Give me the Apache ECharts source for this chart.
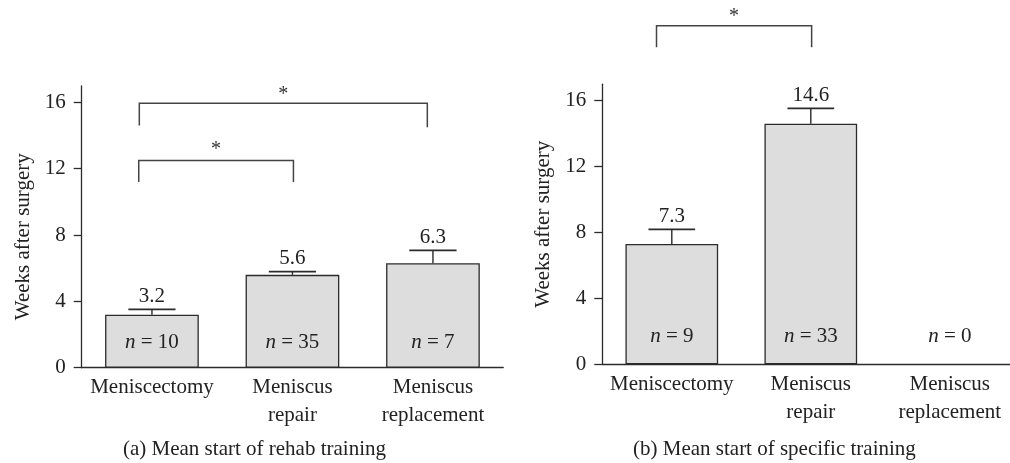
<!DOCTYPE html>
<html><head><meta charset="utf-8">
<script src="https://cdn.jsdelivr.net/npm/echarts@6/dist/echarts.min.js"></script>
<style>html,body{margin:0;padding:0;background:#fff}#c{width:1010px;height:463px}</style>
</head><body><div id="c"></div>
<script>
const categories = ['Meniscectomy', 'Meniscus\nrepair', 'Meniscus\nreplacement'];
const rehabMeans = [3.2, 5.6, 6.3];
const rehabErrTop = [3.52, 5.79, 7.08];
const rehabN = [10, 35, 7];
const specificMeans = [7.3, 14.6, null];
const specificErrTop = [8.19, 15.53, null];
const specificN = [9, 33, 0];
const yTicks = [0, 4, 8, 12, 16];
const yTitle = 'Weeks after surgery';
const captionA = '(a) Mean start of rehab training';
const captionB = '(b) Mean start of specific training';
// significance brackets: [xStart, xEnd, yTop, yBottomStart, yBottomEnd, starX, starY] (category units / weeks)
const rehabBrackets = [[-0.09, 1.96, 15.95, 14.6, 14.5, 0.935, 16.49], [-0.094, 1.007, 12.5, 11.2, 11.2, 0.456, 13.13]];
const specificBrackets = [[-0.11, 1.006, 20.55, 19.24, 19.24, 0.447, 21.1]];

const FONT = '"Liberation Serif", "Times New Roman", serif';
const FS = 21;
const INK = '#2b2b2b';

function errData(means, tops, ns) {
  return means.map((m, i) => [i, m == null ? '-' : m, tops[i] == null ? '-' : tops[i], ns[i]]);
}

function errItem(nOffset) {
  return function (params, api) {
    const i = api.value(0), m = api.value(1), t = api.value(2), n = api.value(3);
    const base = api.coord([i, 0]);
    const band = api.size([1, 0])[0];
    const children = [{
      type: 'text', x: base[0], y: base[1] - nOffset,
      style: {
        text: '{i|n} = ' + n,
        rich: { i: { fontStyle: 'italic', fontFamily: FONT, fontSize: FS, fill: '#222' } },
        fontFamily: FONT, fontSize: FS, fill: '#222', align: 'center', verticalAlign: 'middle'
      }
    }];
    if (!isNaN(m) && !isNaN(t)) {
      const pm = api.coord([i, m]);
      const pt = api.coord([i, t]);
      const half = band * 0.168;
      children.push({ type: 'line', shape: { x1: pm[0], y1: pm[1], x2: pt[0], y2: pt[1] }, style: { stroke: INK, lineWidth: 1.4 } });
      children.push({ type: 'line', shape: { x1: pt[0] - half, y1: pt[1], x2: pt[0] + half, y2: pt[1] }, style: { stroke: INK, lineWidth: 1.8 } });
      children.push({
        type: 'text', x: pt[0], y: pt[1] - 13,
        style: { text: String(m), fontFamily: FONT, fontSize: FS, fill: '#222', align: 'center', verticalAlign: 'middle' }
      });
    }
    return { type: 'group', children };
  };
}

function bracketItem(params, api) {
  const p1 = api.coord([api.value(0), api.value(3)]);
  const p2 = api.coord([api.value(0), api.value(2)]);
  const p3 = api.coord([api.value(1), api.value(2)]);
  const p4 = api.coord([api.value(1), api.value(4)]);
  const s = api.coord([api.value(5), api.value(6)]);
  return {
    type: 'group', children: [
      { type: 'polyline', shape: { points: [p1, p2, p3, p4] }, style: { stroke: '#444', lineWidth: 1.5, fill: null } },
      { type: 'text', x: s[0], y: s[1], style: { text: '*', fontFamily: FONT, fontSize: 20, fill: '#333', align: 'center', verticalAlign: 'middle' } }
    ]
  };
}

function catAxis(gridIndex) {
  return {
    type: 'category', gridIndex, data: categories, boundaryGap: true,
    axisLine: { onZero: false, lineStyle: { color: INK, width: 1.3 } },
    axisTick: { alignWithLabel: true, length: 8, lineStyle: { color: INK, width: 1.3 } },
    axisLabel: { interval: 0, margin: 6, fontFamily: FONT, fontSize: FS, color: '#222', lineHeight: 28 },
    splitLine: { show: false }
  };
}
function valXAxis(gridIndex) {
  return { type: 'value', gridIndex, min: -0.5, max: 2.5, show: false, axisLine: { onZero: false }, splitLine: { show: false } };
}
function yAxis(gridIndex, padding) {
  return {
    type: 'value', gridIndex, min: 0, max: 17,
    name: yTitle, nameLocation: 'middle', nameGap: 48,
    nameTextStyle: { fontFamily: FONT, fontSize: FS, color: '#222', padding },
    axisLine: { show: true, onZero: false, lineStyle: { color: INK, width: 1.3 } },
    axisTick: { show: true, length: 8, customValues: yTicks, lineStyle: { color: INK, width: 1.3 } },
    axisLabel: { margin: 16, customValues: yTicks, fontFamily: FONT, fontSize: FS, color: '#222' },
    splitLine: { show: false }
  };
}
function barSeries(xi, yi, means) {
  return {
    type: 'bar', xAxisIndex: xi, yAxisIndex: yi, data: means.map(v => v == null ? '-' : v),
    barWidth: '66.7%',
    itemStyle: { color: '#dddddd', borderColor: INK, borderWidth: 1.3 }
  };
}

const chart = echarts.init(document.getElementById('c'), null, { renderer: 'canvas' });
chart.setOption({
  animation: false,
  backgroundColor: '#fff',
  grid: [
    { left: 81.7, width: 421.5, top: 85.8, height: 281.9, outerBoundsMode: 'none', containLabel: false },
    { left: 602.3, width: 417, top: 84.2, height: 280.1, outerBoundsMode: 'none', containLabel: false }
  ],
  xAxis: [catAxis(0), valXAxis(0), catAxis(1), valXAxis(1)],
  yAxis: [yAxis(0, [0, 20, 0, 0]), yAxis(1, [0, 0, 0, 0])],
  series: [
    barSeries(0, 0, rehabMeans),
    { type: 'custom', xAxisIndex: 0, yAxisIndex: 0, data: errData(rehabMeans, rehabErrTop, rehabN), renderItem: errItem(25), encode: { x: 0, y: 1 }, z: 5 },
    { type: 'custom', xAxisIndex: 1, yAxisIndex: 0, data: rehabBrackets, renderItem: bracketItem, encode: { x: 0, y: 2 }, clip: false },
    barSeries(2, 1, specificMeans),
    { type: 'custom', xAxisIndex: 2, yAxisIndex: 1, data: errData(specificMeans, specificErrTop, specificN), renderItem: errItem(27.6), encode: { x: 0, y: 1 }, z: 5 },
    { type: 'custom', xAxisIndex: 3, yAxisIndex: 1, data: specificBrackets, renderItem: bracketItem, encode: { x: 0, y: 2 }, clip: false }
  ],
  graphic: [
    { type: 'text', left: 123, top: 439, style: { text: captionA, fontFamily: FONT, fontSize: FS, fill: '#222' } },
    { type: 'text', left: 633, top: 439, style: { text: captionB, fontFamily: FONT, fontSize: FS, fill: '#222' } }
  ]
});
</script></body></html>
